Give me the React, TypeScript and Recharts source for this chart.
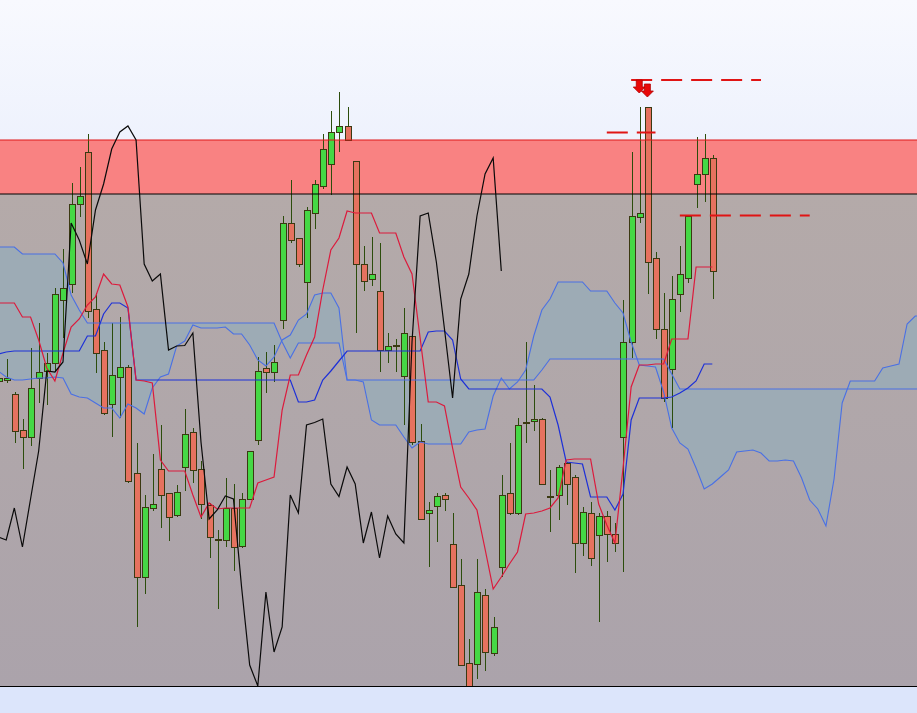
import { ComposedChart, XAxis, YAxis, Bar, Line, Area, Scatter, ReferenceArea, ReferenceLine } from 'recharts'

// bar index of the first candle in the arrays below (it is half cut by the left edge)
const FIRST_BAR = -1
const SHIFT = 26

const opens = [
  619, 620, 606, 570, 563, 622, 629, 637, 700, 716, 796, 848, 691, 650, 596, 623, 633, 527, 423, 492,
  531, 507, 485, 533, 568, 531, 495, 461, 460, 492, 454, 501, 560, 632, 628, 680, 777, 762, 718, 787,
  814, 836, 868, 874, 839, 736, 721, 709, 650, 655, 624, 664, 559, 487, 494, 505, 456, 415, 337, 336,
  405, 347, 433, 507, 487, 578, 579, 581, 504, 505, 537, 523, 457, 487, 465, 484, 466, 563, 658, 783,
  893, 742, 671, 631, 706, 722, 816, 826, 842,
]
const highs = [
  628, 641, 608, 581, 652, 677, 647, 712, 751, 817, 833, 866, 707, 658, 677, 683, 635, 557, 505, 546,
  575, 507, 515, 591, 572, 539, 497, 470, 522, 516, 507, 549, 643, 648, 655, 784, 820, 762, 793, 820,
  866, 889, 908, 893, 839, 754, 763, 757, 667, 661, 692, 665, 576, 498, 507, 507, 487, 441, 361, 441,
  411, 383, 525, 557, 582, 658, 615, 582, 530, 535, 538, 525, 493, 498, 487, 489, 477, 700, 848, 893,
  893, 748, 707, 724, 754, 784, 863, 866, 845,
]
const lows = [
  616, 617, 557, 531, 554, 597, 595, 628, 662, 707, 783, 682, 627, 585, 563, 582, 517, 373, 406, 489,
  472, 459, 483, 509, 517, 481, 442, 391, 453, 429, 452, 500, 555, 607, 618, 671, 757, 733, 682, 771,
  811, 805, 848, 859, 667, 709, 714, 628, 637, 628, 575, 555, 480, 433, 458, 489, 412, 334, 305, 321,
  329, 344, 423, 485, 485, 557, 569, 515, 468, 480, 495, 427, 444, 434, 378, 438, 448, 428, 642, 777,
  706, 661, 598, 572, 688, 717, 792, 798, 701,
]
const closes = [
  622, 622, 569, 563, 612, 628, 637, 706, 712, 796, 804, 689, 647, 587, 625, 633, 519, 423, 493, 496,
  505, 483, 508, 566, 530, 496, 463, 460, 492, 453, 501, 549, 629, 628, 638, 777, 760, 736, 790, 816,
  851, 868, 874, 860, 736, 719, 726, 650, 654, 654.5, 667, 558, 481, 490, 504, 501, 413, 335, 314, 408,
  348, 373, 505, 487, 575, 577.5, 581, 516, 503.5, 533, 516, 457, 488, 442, 484, 466, 457, 658, 784, 787,
  738, 671, 602, 701, 726, 784, 826, 842, 729,
]

const tenkan = [
  697, 697, 697, 683, 683, 660, 632, 619, 647, 673, 681, 695, 703, 726, 716, 715, 693, 620, 619, 617,
  540, 529, 529, 529, 505, 483, 497, 491, 492, 492, 492, 492, 517, 520, 523, 590, 625, 625, 645, 663,
  710, 750, 762, 789, 787, 787, 787, 767, 767, 767, 743, 726, 662, 598, 598, 594, 552, 513, 502, 490,
  451, 411, 423, 436, 448, 486, 487, 489, 492, 502, 540, 541, 541, 541, 496, 475, 457, 532, 613, 635,
  635, 636, 636, 661, 661, 661, 733, 733, 733,
]
const kijun = [
  646, 648, 649, 649, 649, 649, 649, 649, 649, 649, 649, 664, 664, 686, 697, 697, 692, 620, 620, 620,
  620, 620, 620, 620, 620, 620, 620, 620, 620, 620, 620, 620, 620, 620, 620, 620, 620, 598, 598, 600,
  620, 629, 639, 649, 649, 649, 649, 649, 649, 649, 649, 649, 649, 668, 669, 669, 660, 621, 611, 611,
  611, 611, 611, 611, 611, 611, 611, 611, 603, 575, 538, 537, 536, 503, 503, 503, 490, 506, 580, 602,
  602, 602, 602, 603, 607, 612, 619, 636, 636,
]
// leading spans, already plotted 26 bars ahead (so they run past the last candle)
const senkouA = [
  629, 623, 620, 620, 621, 622, 622, 623, 622, 606, 603, 602, 597, 592, 592, 582, 596, 592, 586, 612,
  623, 626, 654, 659, 675, 672, 672, 672, 673, 666, 666, 655, 640, 634, 643, 660, 665, 680, 686, 705,
  707, 707, 692, 620, 620, 618, 580, 575, 575, 575, 563, 552, 558, 556, 556, 556, 556, 556, 568, 570,
  571, 604, 622, 611, 618, 630, 664, 690, 701, 718, 718, 718, 718, 709, 709, 709, 697, 687, 658, 635,
  634, 633, 608, 572, 557, 551, 532, 511, 516, 523, 530, 548, 549, 550, 547, 539, 539, 540, 539, 522,
  500, 491, 474, 521, 597, 619, 619, 619, 619, 632, 634, 636, 676, 684, 684,
]
const senkouB = [
  753, 753, 753, 746, 746, 746, 746, 746, 737, 705, 690, 677, 677, 677, 677, 677, 677, 677, 677, 677,
  677, 677, 677, 677, 677, 677, 677, 677, 677, 677, 677, 677, 677, 677, 677, 658, 642, 657, 657, 657,
  657, 657, 657, 620, 620, 620, 620, 620, 620, 620, 620, 620, 620, 620, 620, 620, 620, 620, 620, 620,
  620, 620, 620, 620, 620, 620, 620, 630, 641, 641, 641, 641, 641, 641, 641, 641, 641, 641, 641, 641,
  641, 641, 641, 626, 611, 611, 611, 611, 611, 611, 611, 611, 611, 611, 611, 611, 611, 611, 611, 611,
  611, 611, 611, 611, 611, 611, 611, 611, 611, 611, 611, 611, 611, 611, 611,
]

// price zones
const zoneTop = 1000
const zoneHigh = 860
const zoneMid = 806
const zoneLow = 314

// dashed red levels
const levelPrices = [920, 867.5, 784.5]
const levelFrom = [77, 74, 83]
const levelTo = [93, 80, 99]

// down arrows over the top bars
const arrowBars = [78, 79]
const arrowPrices = [907, 903]

const rows = senkouA.map((_, k) => {
  const has = k < closes.length
  return {
    i: FIRST_BAR + k,
    open: has ? opens[k] : undefined,
    high: has ? highs[k] : undefined,
    low: has ? lows[k] : undefined,
    close: has ? closes[k] : undefined,
    tenkan: has ? tenkan[k] : undefined,
    kijun: has ? kijun[k] : undefined,
    // lagging span: the close drawn 26 bars back
    chikou: k + SHIFT < closes.length ? closes[k + SHIFT] : undefined,
    spanA: senkouA[k],
    spanB: senkouB[k],
  }
})

const arrowRows = arrowBars.map((b, k) => ({ i: b, v: arrowPrices[k] }))

const UP = '#45d845'
const DOWN = '#e6725f'
const EDGE = '#3b3912'
const WICK = '#2c4d0c'

const Candle = (props: any) => {
  const { x, y, width, height, payload } = props
  if (!payload || payload.high === undefined) return null
  const top = Math.min(y, y + height)
  const h = Math.abs(height)
  const k = h / (payload.high - payload.low || 1)
  const py = (v: number) => top + (payload.high - v) * k
  const cx = Math.round(x + width / 2)
  const up = payload.close >= payload.open
  const b0 = Math.round(py(Math.max(payload.open, payload.close)))
  const b1 = Math.round(py(Math.min(payload.open, payload.close)))
  return (
    <g>
      <line x1={cx + 0.5} x2={cx + 0.5} y1={top} y2={top + h} stroke={WICK} strokeWidth={1} />
      <rect
        x={cx - 2.5}
        y={b0 + 0.5}
        width={6}
        height={Math.max(b1 - b0, 1)}
        fill={up ? UP : DOWN}
        stroke={EDGE}
        strokeWidth={1}
      />
    </g>
  )
}

const Arrow = (props: any) => {
  const { cx, cy } = props
  const pts = [
    [cx, cy],
    [cx - 6, cy - 6],
    [cx - 3, cy - 6],
    [cx - 3, cy - 13],
    [cx + 3, cy - 13],
    [cx + 3, cy - 6],
    [cx + 6, cy - 6],
  ]
  return <polygon points={pts.map((p) => p.join(',')).join(' ')} fill="#e80808" stroke="#b00000" strokeWidth={0.8} />
}

const lineProps = { type: 'linear' as const, dot: false, activeDot: false, isAnimationActive: false }

export default function App() {
  return (
    <div style={{ position: 'absolute', left: 0, top: 0, width: 917, height: 713, background: '#dce5fb' }}>
      <ComposedChart
        width={917}
        height={686}
        data={rows}
        margin={{ top: 0, right: 0, bottom: 0, left: 0 }}
      >
        <defs>
          <linearGradient id="gTop" x1="0" y1="0" x2="0" y2="1">
            <stop offset="0%" stopColor="#f8f9fe" />
            <stop offset="100%" stopColor="#eef2fd" />
          </linearGradient>
          <linearGradient id="gMid" x1="0" y1="0" x2="0" y2="1">
            <stop offset="0%" stopColor="#b4aaa9" />
            <stop offset="100%" stopColor="#aba3ab" />
          </linearGradient>
        </defs>
        <XAxis type="number" dataKey="i" domain={[-0.764, 112.22]} allowDataOverflow hide />
        <YAxis type="number" domain={[zoneLow, zoneTop]} allowDataOverflow hide />
        <ReferenceArea y1={zoneHigh} y2={zoneTop} fill="url(#gTop)" fillOpacity={1} stroke="none" />
        <ReferenceArea y1={zoneMid} y2={zoneHigh} fill="#f98282" fillOpacity={1} stroke="none" />
        <ReferenceArea y1={zoneLow} y2={zoneMid} fill="url(#gMid)" fillOpacity={1} stroke="none" />
        <ReferenceLine y={zoneHigh} stroke="#e01818" strokeWidth={1} />
        <ReferenceLine y={zoneMid} stroke="#000000" strokeWidth={1} />
        <Area
          type="linear"
          dataKey={(r: any) => [r.spanA, r.spanB]}
          stroke="none"
          fill="#9dabb5"
          fillOpacity={1}
          dot={false}
          activeDot={false}
          isAnimationActive={false}
        />
        <Bar
          dataKey={(r: any) => (r.high === undefined ? null : [r.low, r.high])}
          barSize={7}
          shape={Candle}
          activeBar={false}
          isAnimationActive={false}
        />
        <Line {...lineProps} dataKey="spanA" stroke="#4a70e4" strokeWidth={1.1} />
        <Line {...lineProps} dataKey="spanB" stroke="#4a70e4" strokeWidth={1.1} />
        <Line {...lineProps} dataKey="kijun" stroke="#1d30d8" strokeWidth={1.2} />
        <Line {...lineProps} dataKey="tenkan" stroke="#dc1a3c" strokeWidth={1.2} />
        <Line {...lineProps} dataKey="chikou" stroke="#0a0a0a" strokeWidth={1.2} />
        {levelPrices.map((p, k) => (
          <ReferenceLine
            key={k}
            segment={[{ x: levelFrom[k], y: p }, { x: levelTo[k], y: p }]}
            stroke="#e01414"
            strokeWidth={2}
            strokeDasharray="21 9"
          />
        ))}
        <Scatter data={arrowRows} dataKey="v" shape={Arrow} isAnimationActive={false} />
      </ComposedChart>
      <div style={{ position: 'absolute', left: 0, top: 686, width: 917, height: 0, borderTop: '1px solid #000' }} />
    </div>
  )
}
